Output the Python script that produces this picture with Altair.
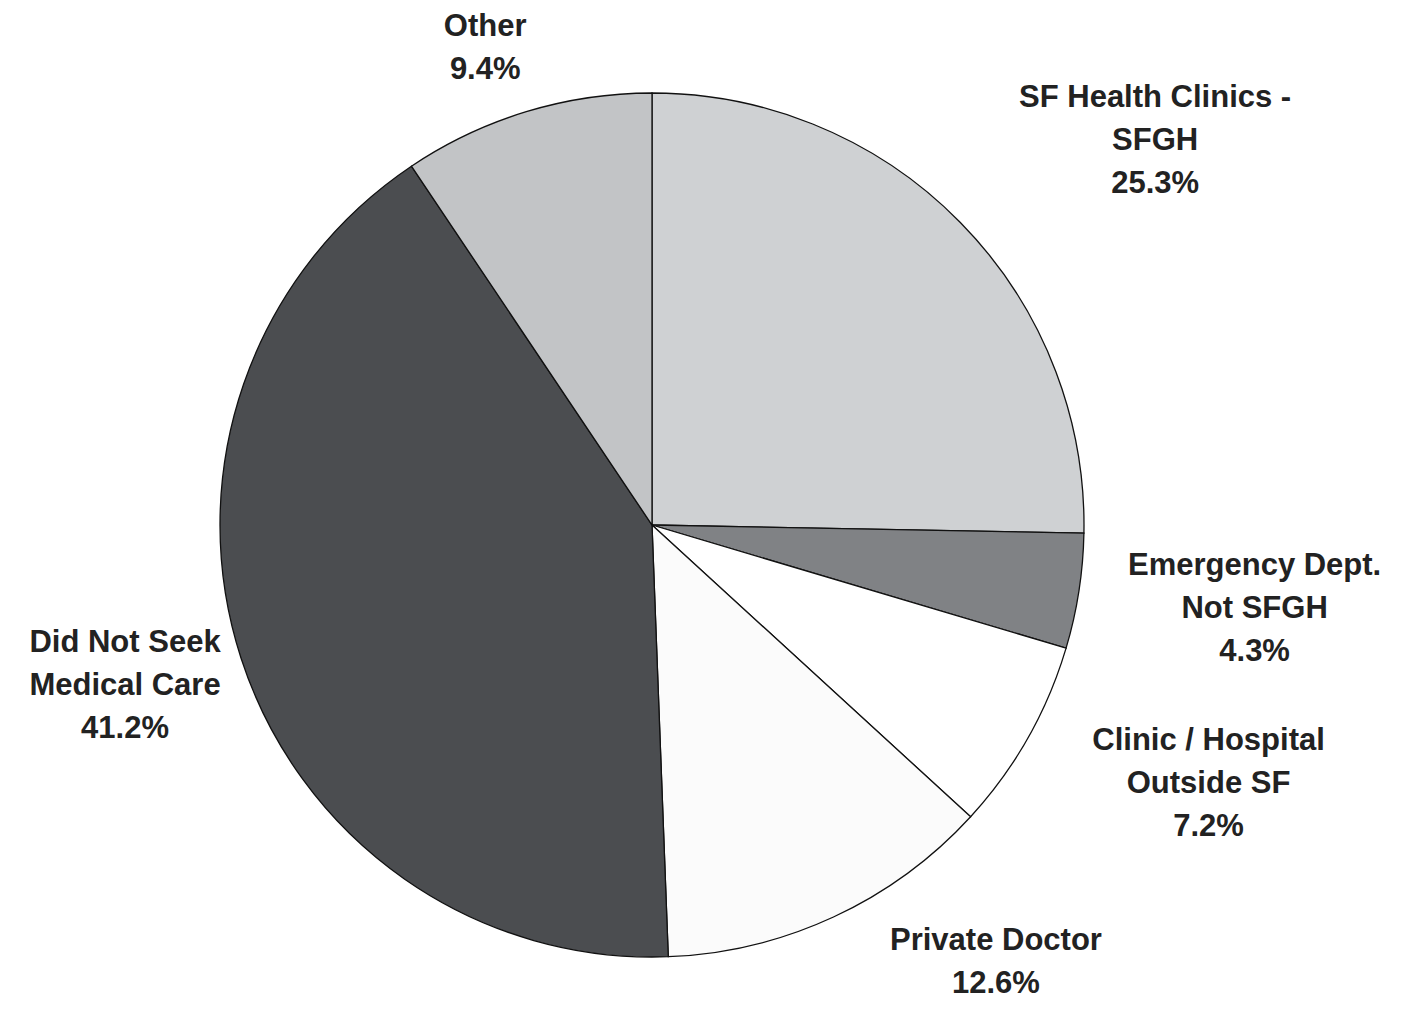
import altair as alt
import pandas as pd

categories = ["SF Health Clinics - SFGH", "Emergency Dept. Not SFGH", "Clinic / Hospital Outside SF",
              "Private Doctor", "Did Not Seek Medical Care", "Other"]
values = [25.3, 4.3, 7.2, 12.6, 41.2, 9.4]
label_lines = [
    ["SF Health Clinics -", "SFGH", "25.3%"],
    ["Emergency Dept.", "Not SFGH", "4.3%"],
    ["Clinic / Hospital", "Outside SF", "7.2%"],
    ["Private Doctor", "12.6%"],
    ["Did Not Seek", "Medical Care", "41.2%"],
    ["Other", "9.4%"],
]

df = pd.DataFrame({
    "cat": categories,
    "value": values,
    "order": list(range(len(categories))),
    "label": ["\n".join(l) for l in label_lines],
})

colors = ["#cfd1d3", "#808285", "#ffffff", "#fbfbfb", "#4b4d50", "#c2c4c6"]

CX, CY, R = 644, 517, 432

base = alt.Chart(df).transform_stack(
    stack="value", groupby=[], as_=["v0", "v1"], sort=[alt.SortField("order", order="ascending")]
).transform_calculate(mid="(datum.v0 + datum.v1) / 2")

theta_scale = alt.Scale(domain=[0, 100], range=[0, 6.283185307179586])

arcs = base.mark_arc(stroke="#111111", strokeWidth=1.3).encode(
    theta=alt.Theta("v0:Q", scale=theta_scale),
    theta2="v1:Q",
    color=alt.Color("cat:N", scale=alt.Scale(domain=categories, range=colors), legend=None),
    x=alt.value(CX), y=alt.value(CY), radius=alt.value(R),
)

# per-label placement of the first text line (radius, angular offset in radians)
placement = {
    "SF Health Clinics - SFGH": (660, 0.072),
    "Emergency Dept. Not SFGH": (604, -0.086),
    "Clinic / Hospital Outside SF": (597, -0.145),
    "Private Doctor": (540, -0.257),
    "Did Not Seek Medical Care": (540, 0.094),
    "Other": (525, -0.028),
}

layers = [arcs]
for cat in categories:
    r, off = placement[cat]
    layers.append(
        base.transform_filter(alt.datum.cat == cat).mark_text(
            font="Liberation Sans", fontWeight="bold", fontSize=31, lineHeight=43,
            lineBreak="\n", align="center", baseline="middle", color="#222222",
            radius=r, thetaOffset=off,
        ).encode(
            theta=alt.Theta("mid:Q", scale=theta_scale),
            text="label:N",
            x=alt.value(CX), y=alt.value(CY),
        )
    )

chart = alt.layer(*layers).properties(
    width=1389, height=999, autosize=alt.AutoSizeParams(type="none"), padding=0
).configure_view(stroke=None)

chart.save("out.html", embed_options={"renderer": "svg", "actions": False})
